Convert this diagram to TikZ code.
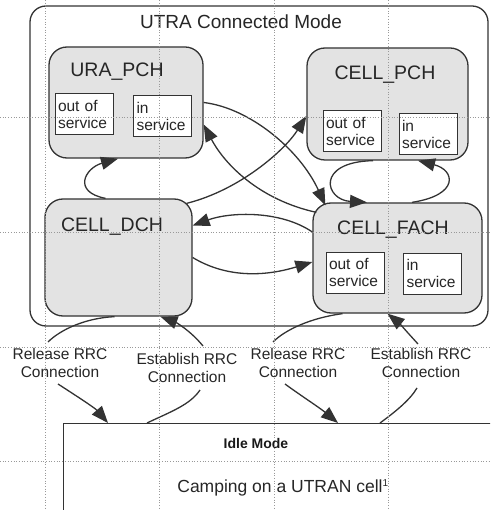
\documentclass[tikz,border=0pt]{standalone}
\usepackage{fontspec}
\setmainfont{Liberation Sans}
\usetikzlibrary{arrows.meta}
\usetikzlibrary{calc}

\begin{document}
\begin{tikzpicture}[x=1pt,y=-1pt,
    ink/.style={draw=black!80, line width=1.3pt},
    flow/.style={ink, -{Triangle[length=17pt,width=13pt]}},
    statebox/.style={draw=black!80, line width=1.3pt, fill=black!11, rounded corners=18pt, inner sep=0pt},
    subbox/.style={draw=black!80, line width=1pt, fill=white, align=left, text width=52pt, inner sep=3pt, minimum height=41pt, text=black!85, font=\fontsize{15.5}{17}\selectfont},
    statetext/.style={text=black!85, inner sep=0pt, font=\fontsize{19.5}{22}\selectfont},
    rrctext/.style={align=center, text=black!85, inner sep=0pt, font=\fontsize{15.5}{18}\selectfont},
    gridline/.style={draw=black!40, dotted, line width=0.7pt}]
        \useasboundingbox (0,0) rectangle (490,510);
        \clip (0,0) rectangle (490,510);

        \node[draw=black!80, line width=1.3pt, rounded corners=16pt, minimum width=458pt, minimum height=320pt] (utra) at (259,166) {};
        \node[statetext, font=\fontsize{19}{22}\selectfont] (utratitle) at (241,22) {UTRA Connected Mode};

        \node[statebox, minimum width=154pt, minimum height=111pt] (ura) at (126,102.5) {};
        \node[statebox, minimum width=161pt, minimum height=112pt] (cellpch) at (387.5,104) {};
        \node[statebox, minimum width=147pt, minimum height=117pt] (celldch) at (118.5,257.5) {};
        \node[statebox, minimum width=169pt, minimum height=110pt] (cellfach) at (397.5,258) {};

        \node[statetext] (uratext) at (117,72) {URA\_PCH};
        \node[statetext] (cellpchtext) at (385,75) {CELL\_PCH};
        \node[statetext] (celldchtext) at (112,227) {CELL\_DCH};
        \node[statetext] (cellfachtext) at (393,230) {CELL\_FACH};

        \node[subbox] (uraout) at (84,114) {out of\\service};
        \node[subbox] (urain) at (162.5,116.5) {in\\service};
        \node[subbox] (pchout) at (352,131.5) {out of\\service};
        \node[subbox] (pchin) at (428,134) {in\\service};
        \node[subbox] (fachout) at (355,272.5) {out of\\service};
        \node[subbox] (fachin) at (432.5,273.5) {in\\service};

        \node[draw=black!80, line width=1.3pt, minimum width=460pt, minimum height=120pt, anchor=north west] (idle) at (63,423) {};
        \node[text=black!90, inner sep=0pt, font=\fontsize{14}{16}\selectfont\bfseries] (idletitle) at (256,443) {Idle Mode};
        \node[text=black!85, inner sep=0pt, font=\fontsize{17.5}{20}\selectfont] (camping) at (283,488) {Camping on a UTRAN cell\textsuperscript{\fontsize{10}{10}\selectfont 1}};

        \node[rrctext] (rel1) at (60,363) {Release RRC\\Connection};
        \node[rrctext] (est1) at (187,368) {Establish RRC\\Connection};
        \node[rrctext] (rel2) at (298,363) {Release RRC\\Connection};
        \node[rrctext] (est2) at (421,363) {Establish RRC\\Connection};

        \draw[flow] ($(celldch.north)+(-13,0)$) .. controls (72,192) and (85,168) .. ($(ura.south)+(-8,0)$);
        \draw[flow] (ura.east) .. controls (250,108) and (300,150) .. ($(cellfach.north west)+(13,3)$);
        \draw[flow] ($(cellfach.north west)+(4,10)$) .. controls (260,200) and (225,165) .. ($(ura.east)+(0,22)$);
        \draw[flow] ($(celldch.north east)+(-6,5)$) .. controls (240,190) and (285,150) .. ($(cellpch.west)+(0,12)$);
        \draw[flow] ($(cellfach.west)+(0,-26)$) .. controls (280,210) and (230,212) .. ($(celldch.east)+(0,-32)$);
        \draw[flow] (celldch.east) .. controls (230,280) and (270,275) .. ($(cellfach.west)+(0,4)$);
        \draw[flow] ($(cellpch.south)+(-14.5,0)$) .. controls (315,162) and (325,200) .. ($(cellfach.north)+(-30.5,0)$);
        \draw[flow] ($(cellfach.north)+(14.5,0)$) .. controls (460,195) and (455,170) .. ($(cellpch.south)+(30.5,0)$);

        \draw[ink] ($(celldch.south)+(-4,0)$) .. controls (85,318) and (60,330) .. ($(rel1.center)+(-12,-21)$);
        \draw[flow] ($(rel1.center)+(-2,21)$) .. controls (75,395) and (95,408) .. ($(idle.north west)+(45,0)$);
        \draw[ink] ($(idle.north west)+(84,0)$) .. controls (170,412) and (190,405) .. ($(est1.center)+(13,22)$);
        \draw[flow] ($(est1.center)+(16,-22)$) .. controls (190,330) and (175,322) .. ($(celldch.south)+(42,0)$);

        \draw[ink] ($(cellfach.south)+(-55,0)$) .. controls (310,318) and (285,330) .. ($(rel2.center)+(-25,-21)$);
        \draw[flow] ($(rel2.center)+(-13,21)$) .. controls (300,395) and (320,408) .. ($(idle.north west)+(275,0)$);
        \draw[ink] ($(idle.north west)+(317,0)$) .. controls (395,412) and (410,400) .. ($(est2.center)+(-4,25)$);
        \draw[flow] ($(est2.center)+(-3,-19)$) .. controls (408,333) and (398,322) .. ($(cellfach.south)+(-10,0)$);

        \foreach \gx in {45,159,274,388}
            \draw[gridline] (\gx,0) -- (\gx,510);
        \foreach \gy in {117,232,347,461}
            \draw[gridline] (0,\gy) -- (490,\gy);
\end{tikzpicture}
\end{document}
